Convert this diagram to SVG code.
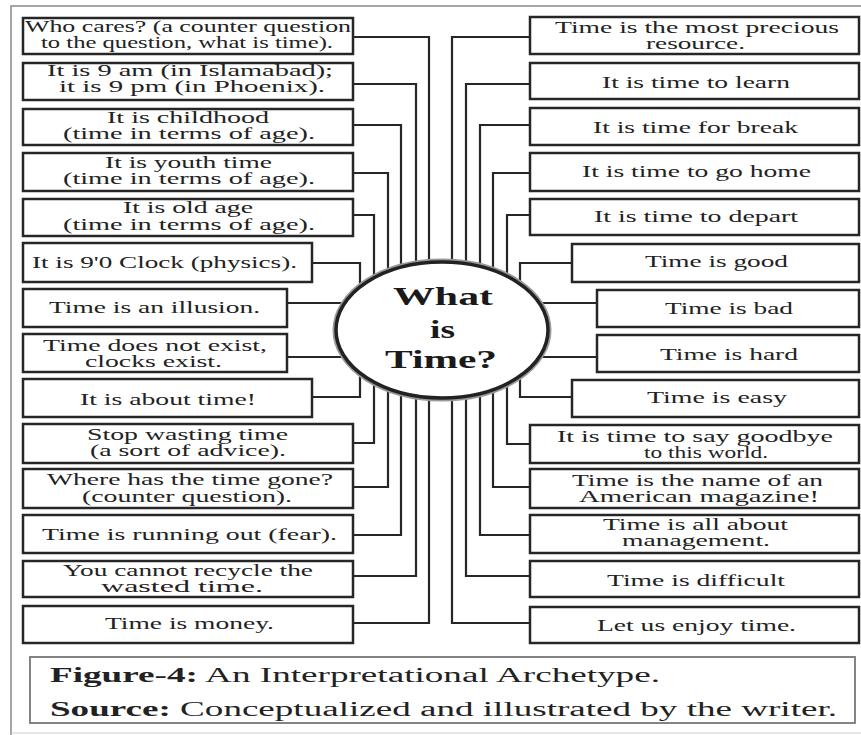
<svg xmlns="http://www.w3.org/2000/svg" width="861" height="735" viewBox="0 0 861 735">
<style>
.bg{fill:#fff}
.frame{fill:none;stroke:#888;stroke-width:1.5}
.box{fill:#fff;stroke:#262626;stroke-width:2.5}
.t{font-family:"Liberation Serif","Times New Roman",serif;font-size:16px;fill:#222}
.c{fill:none;stroke:#262626;stroke-width:2.2}
.hub{fill:#fff;stroke:#222;stroke-width:3.5}
.hubsh{fill:none;stroke:#999;stroke-width:7}
.ht{font-family:"Liberation Serif","Times New Roman",serif;font-size:25px;font-weight:bold;fill:#1a1a1a}
.cap{font-family:"Liberation Serif","Times New Roman",serif;font-size:20px;fill:#222}
.capbox{fill:#fff;stroke:#777;stroke-width:1.8}
</style>
<rect class="bg" x="0" y="0" width="861" height="735"/>
<path class="frame" d="M11,735 V6 H861"/>
<path d="M11,733 H861" stroke="#ccc" stroke-width="1" fill="none"/>

<g id="connectors">
<path class="c" d="M353,37 H429 V330 M353,84 H416 V330 M353,125 H401 V330 M353,173 H388 V330 M353,215 H374 V330"/>
<path class="c" d="M353,443 H374 V330 M353,487 H388 V330 M353,535 H401 V330 M353,576 H416 V330 M353,623 H429 V330"/>
<path class="c" d="M312,263 H360 V330 M312,397 H360 V330 M287,303 H440 M287,357 H440"/>
<path class="c" d="M530,37 H452 V330 M530,84 H466 V330 M530,125 H480 V330 M530,173 H493 V330 M530,215 H507 V330"/>
<path class="c" d="M530,444 H507 V330 M530,487 H493 V330 M530,535 H480 V330 M530,576 H466 V330 M530,623 H452 V330"/>
<path class="c" d="M572,263 H520 V330 M572,397 H520 V330 M597,303 H440 M597,357 H440"/>
</g>

<g id="hub">
<ellipse class="hubsh" cx="442" cy="330" rx="106" ry="68"/>
<ellipse class="hub" cx="442" cy="330" rx="106" ry="68"/>
<text class="ht" x="393" y="305" textLength="100" lengthAdjust="spacingAndGlyphs">What</text>
<text class="ht" x="430" y="338" textLength="25" lengthAdjust="spacingAndGlyphs">is</text>
<text class="ht" x="385" y="368" textLength="112" lengthAdjust="spacingAndGlyphs">Time?</text>
</g>

<g id="L1"><rect class="box" x="23" y="18" width="330" height="36"/>
<text class="t" x="25" y="32" textLength="326" lengthAdjust="spacingAndGlyphs">Who cares? (a counter question</text>
<text class="t" x="41" y="48" textLength="292" lengthAdjust="spacingAndGlyphs">to the question, what is time).</text></g>
<g id="L2"><rect class="box" x="23" y="63" width="330" height="37"/>
<text class="t" x="47" y="76" textLength="286" lengthAdjust="spacingAndGlyphs">It is 9 am (in Islamabad);</text>
<text class="t" x="59" y="92" textLength="266" lengthAdjust="spacingAndGlyphs">it is 9 pm (in Phoenix).</text></g>
<g id="L3"><rect class="box" x="23" y="109" width="330" height="36"/>
<text class="t" x="107" y="123" textLength="162" lengthAdjust="spacingAndGlyphs">It is childhood</text>
<text class="t" x="63" y="139" textLength="252" lengthAdjust="spacingAndGlyphs">(time in terms of age).</text></g>
<g id="L4"><rect class="box" x="23" y="153" width="330" height="38"/>
<text class="t" x="105" y="168" textLength="167" lengthAdjust="spacingAndGlyphs">It is youth time</text>
<text class="t" x="63" y="184" textLength="252" lengthAdjust="spacingAndGlyphs">(time in terms of age).</text></g>
<g id="L5"><rect class="box" x="23" y="199" width="330" height="37"/>
<text class="t" x="123" y="213" textLength="130" lengthAdjust="spacingAndGlyphs">It is old age</text>
<text class="t" x="63" y="230" textLength="252" lengthAdjust="spacingAndGlyphs">(time in terms of age).</text></g>
<g id="L6"><rect class="box" x="23" y="243" width="289" height="39"/>
<text class="t" x="32" y="268" textLength="265" lengthAdjust="spacingAndGlyphs">It is 9'0 Clock (physics).</text></g>
<g id="L7"><rect class="box" x="23" y="289" width="264" height="38"/>
<text class="t" x="49" y="313" textLength="211" lengthAdjust="spacingAndGlyphs">Time is an illusion.</text></g>
<g id="L8"><rect class="box" x="23" y="334" width="264" height="38"/>
<text class="t" x="43" y="351" textLength="224" lengthAdjust="spacingAndGlyphs">Time does not exist,</text>
<text class="t" x="85" y="367" textLength="137" lengthAdjust="spacingAndGlyphs">clocks exist.</text></g>
<g id="L9"><rect class="box" x="23" y="379" width="289" height="38"/>
<text class="t" x="80" y="405" textLength="176" lengthAdjust="spacingAndGlyphs">It is about time!</text></g>
<g id="L10"><rect class="box" x="23" y="424" width="330" height="39"/>
<text class="t" x="87" y="440" textLength="201" lengthAdjust="spacingAndGlyphs">Stop wasting time</text>
<text class="t" x="90" y="456" textLength="196" lengthAdjust="spacingAndGlyphs">(a sort of advice).</text></g>
<g id="L11"><rect class="box" x="23" y="469" width="330" height="39"/>
<text class="t" x="47" y="485" textLength="286" lengthAdjust="spacingAndGlyphs">Where has the time gone?</text>
<text class="t" x="82" y="502" textLength="210" lengthAdjust="spacingAndGlyphs">(counter question).</text></g>
<g id="L12"><rect class="box" x="23" y="515" width="330" height="38"/>
<text class="t" x="42" y="540" textLength="295" lengthAdjust="spacingAndGlyphs">Time is running out (fear).</text></g>
<g id="L13"><rect class="box" x="23" y="561" width="330" height="36"/>
<text class="t" x="63" y="576" textLength="250" lengthAdjust="spacingAndGlyphs">You cannot recycle the</text>
<text class="t" x="101" y="592" textLength="162" lengthAdjust="spacingAndGlyphs">wasted time.</text></g>
<g id="L14"><rect class="box" x="23" y="606" width="330" height="37"/>
<text class="t" x="105" y="629" textLength="169" lengthAdjust="spacingAndGlyphs">Time is money.</text></g>

<g id="R1"><rect class="box" x="530" y="17" width="329" height="37"/>
<text class="t" x="555" y="33" textLength="284" lengthAdjust="spacingAndGlyphs">Time is the most precious</text>
<text class="t" x="646" y="49" textLength="99" lengthAdjust="spacingAndGlyphs">resource.</text></g>
<g id="R2"><rect class="box" x="530" y="63" width="329" height="36"/>
<text class="t" x="602" y="88" textLength="188" lengthAdjust="spacingAndGlyphs">It is time to learn</text></g>
<g id="R3"><rect class="box" x="530" y="108" width="329" height="37"/>
<text class="t" x="593" y="133" textLength="205" lengthAdjust="spacingAndGlyphs">It is time for break</text></g>
<g id="R4"><rect class="box" x="530" y="153" width="329" height="38"/>
<text class="t" x="582" y="177" textLength="229" lengthAdjust="spacingAndGlyphs">It is time to go home</text></g>
<g id="R5"><rect class="box" x="530" y="199" width="329" height="36"/>
<text class="t" x="594" y="222" textLength="204" lengthAdjust="spacingAndGlyphs">It is time to depart</text></g>
<g id="R6"><rect class="box" x="572" y="244" width="287" height="38"/>
<text class="t" x="645" y="267" textLength="143" lengthAdjust="spacingAndGlyphs">Time is good</text></g>
<g id="R7"><rect class="box" x="597" y="290" width="262" height="37"/>
<text class="t" x="665" y="314" textLength="128" lengthAdjust="spacingAndGlyphs">Time is bad</text></g>
<g id="R8"><rect class="box" x="597" y="335" width="262" height="37"/>
<text class="t" x="660" y="360" textLength="138" lengthAdjust="spacingAndGlyphs">Time is hard</text></g>
<g id="R9"><rect class="box" x="572" y="380" width="287" height="37"/>
<text class="t" x="647" y="403" textLength="140" lengthAdjust="spacingAndGlyphs">Time is easy</text></g>
<g id="R10"><rect class="box" x="530" y="425" width="329" height="38"/>
<text class="t" x="557" y="442" textLength="276" lengthAdjust="spacingAndGlyphs">It is time to say goodbye</text>
<text class="t" x="644" y="458" textLength="124" lengthAdjust="spacingAndGlyphs">to this world.</text></g>
<g id="R11"><rect class="box" x="530" y="469" width="329" height="39"/>
<text class="t" x="572" y="486" textLength="251" lengthAdjust="spacingAndGlyphs">Time is the name of an</text>
<text class="t" x="579" y="502" textLength="240" lengthAdjust="spacingAndGlyphs">American magazine!</text></g>
<g id="R12"><rect class="box" x="530" y="515" width="329" height="38"/>
<text class="t" x="603" y="530" textLength="185" lengthAdjust="spacingAndGlyphs">Time is all about</text>
<text class="t" x="622" y="546" textLength="148" lengthAdjust="spacingAndGlyphs">management.</text></g>
<g id="R13"><rect class="box" x="530" y="561" width="329" height="36"/>
<text class="t" x="607" y="586" textLength="178" lengthAdjust="spacingAndGlyphs">Time is difficult</text></g>
<g id="R14"><rect class="box" x="530" y="607" width="329" height="36"/>
<text class="t" x="597" y="631" textLength="199" lengthAdjust="spacingAndGlyphs">Let us enjoy time.</text></g>

<g id="caption"><rect class="capbox" x="30" y="657" width="825" height="66"/>
<text class="cap" x="50" y="682" textLength="610" lengthAdjust="spacingAndGlyphs"><tspan font-weight="bold">Figure-4:</tspan> An Interpretational Archetype.</text>
<text class="cap" x="50" y="716" textLength="787" lengthAdjust="spacingAndGlyphs"><tspan font-weight="bold">Source:</tspan> Conceptualized and illustrated by the writer.</text></g>
</svg>
